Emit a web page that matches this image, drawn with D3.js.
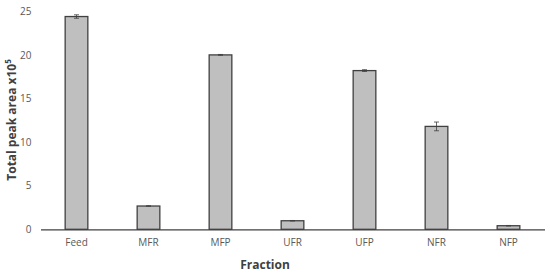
<!DOCTYPE html>
<html lang="en">
<head>
  <meta charset="UTF-8">
  <script src="https://d3js.org/d3.v7.min.js"></script>
  <style>
  body { margin: 0; background: #fff; }
  svg { display: block; }
  .tick text { font-family: "Open Sans", sans-serif; font-size: 10px; fill: #595959; }
  .title { font-family: "Open Sans", sans-serif; font-weight: bold; font-size: 12px; fill: #404040; }
  rect.bar { fill: #bfbfbf; stroke: #404040; stroke-width: 1.3; }
  line.err { stroke: #404040; stroke-width: 0.8; }
  </style>
</head>
<body>
<svg id="chart" width="550" height="273"></svg>
<script>
  // values (units of 10^5)
  const fractions = ["Feed", "MFR", "MFP", "UFR", "UFP", "NFR", "NFP"];
  const peakArea = [24.4, 2.67, 20.0, 0.98, 18.2, 11.8, 0.41];
  const errors = [0.2, 0.03, 0.05, 0.03, 0.1, 0.5, 0.03];
  const yTicks = [0, 5, 10, 15, 20, 25];

  const svg = d3.select("svg#chart");
  const margin = {top: 11.3, left: 40.5, right: 5.5, bottom: 43.7};
  const width = +svg.attr("width");
  const height = +svg.attr("height");
  const chartWidth = width - margin.left - margin.right;
  const chartHeight = height - margin.top - margin.bottom;

  const data = fractions.map((f, i) => ({name: f, value: peakArea[i], err: errors[i]}));

  const xScale = d3.scaleBand().domain(fractions)
      .range([0, chartWidth])
      .paddingInner(0.685)
      .paddingOuter(0.3425);
  const yScale = d3.scaleLinear().domain([0, 25]).range([chartHeight, 0]);

  const chartArea = svg.append("g")
      .attr("transform", `translate(${margin.left},${margin.top})`);

  // y axis labels only
  const yAxisG = chartArea.append("g")
      .call(d3.axisLeft(yScale).tickValues(yTicks).tickSize(0).tickPadding(9));
  yAxisG.select(".domain").remove();

  chartArea.selectAll("rect.bar")
      .data(data)
      .join("rect")
      .attr("class", "bar")
      .attr("x", d => xScale(d.name))
      .attr("y", d => yScale(d.value))
      .attr("width", xScale.bandwidth())
      .attr("height", d => chartHeight - yScale(d.value));

  // error bars
  const errG = chartArea.selectAll("g.errbar")
      .data(data)
      .join("g")
      .attr("class", "errbar")
      .attr("transform", d => `translate(${xScale(d.name) + xScale.bandwidth() / 2},0)`);
  errG.append("line").attr("class", "err")
      .attr("y1", d => yScale(d.value + d.err)).attr("y2", d => yScale(d.value - d.err));
  errG.append("line").attr("class", "err")
      .attr("x1", -2.5).attr("x2", 2.5)
      .attr("y1", d => yScale(d.value + d.err)).attr("y2", d => yScale(d.value + d.err));
  errG.append("line").attr("class", "err")
      .attr("x1", -2.5).attr("x2", 2.5)
      .attr("y1", d => yScale(d.value - d.err)).attr("y2", d => yScale(d.value - d.err));

  // x axis
  const xAxisG = chartArea.append("g")
      .attr("transform", `translate(0,${chartHeight})`)
      .call(d3.axisBottom(xScale).tickSize(0).tickPadding(10).tickSizeOuter(0));
  xAxisG.select(".domain").attr("stroke", "#404040").attr("stroke-width", 1.2);

  svg.append("text")
      .attr("class", "title")
      .attr("x", 265)
      .attr("y", 269)
      .attr("text-anchor", "middle")
      .text("Fraction");

  const yTitle = svg.append("text")
      .attr("class", "title")
      .attr("transform", "translate(16,120) rotate(-90)")
      .attr("text-anchor", "middle");
  yTitle.append("tspan").text("Total peak area x10");
  yTitle.append("tspan").attr("font-size", "8px").attr("dy", -5).text("5");
</script>
</body>
</html>
